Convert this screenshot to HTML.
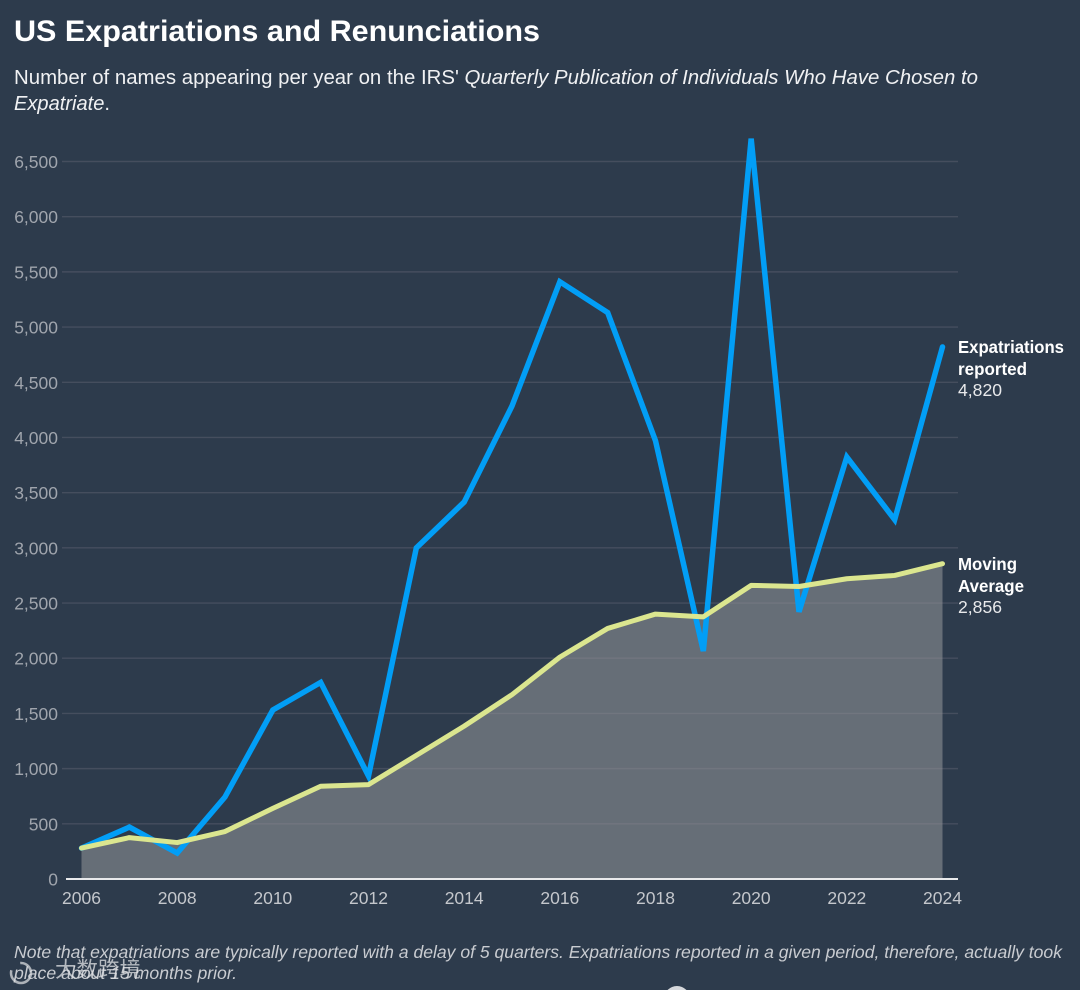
<!DOCTYPE html>
<html lang="en">
<head>
<meta charset="utf-8">
<title>US Expatriations and Renunciations</title>
<style>
html,body{margin:0;padding:0;background:#2d3b4c;}
body{width:1080px;height:990px;overflow:hidden;}
svg{display:block;font-family:"Liberation Sans","Noto Sans CJK SC",sans-serif;}
</style>
</head>
<body>
<svg id="chart" width="1080" height="990" viewBox="0 0 1080 990" xmlns="http://www.w3.org/2000/svg">
  <rect x="0" y="0" width="1080" height="990" fill="#2d3b4c"/>
  <text x="14" y="41" font-size="30" font-weight="700" fill="#ffffff" textLength="526" lengthAdjust="spacingAndGlyphs">US Expatriations and Renunciations</text>
  <text x="14" y="84" font-size="20" fill="#f0f1f3" textLength="964" lengthAdjust="spacingAndGlyphs">Number of names appearing per year on the IRS' <tspan font-style="italic">Quarterly Publication of Individuals Who Have Chosen to</tspan></text>
  <text x="14" y="110" font-size="20" fill="#f0f1f3" textLength="96" lengthAdjust="spacingAndGlyphs"><tspan font-style="italic">Expatriate</tspan>.</text>
  <g id="grid"></g>
  <g id="yLabels"></g>
  <path id="area" fill="#94969a" fill-opacity="0.56"></path>
  <line id="baseline" stroke="#e8e9eb" stroke-width="2"></line>
  <g id="xLabels"></g>
  <path id="lineExp" fill="none" stroke="#029ef6" stroke-width="5.5" stroke-linejoin="miter" stroke-miterlimit="5" stroke-linecap="round"></path>
  <path id="lineAvg" fill="none" stroke="#dbe68f" stroke-width="5" stroke-linejoin="round" stroke-linecap="round"></path>

  <g font-size="17.5">
    <text x="958" y="353" font-weight="700" fill="#ffffff" textLength="106" lengthAdjust="spacingAndGlyphs">Expatriations</text>
    <text x="958" y="375" font-weight="700" fill="#ffffff" textLength="69" lengthAdjust="spacingAndGlyphs">reported</text>
    <text id="expValue" x="958" y="396" fill="#e8e9eb" textLength="44" lengthAdjust="spacingAndGlyphs"></text>
  </g>
  <g font-size="17.5">
    <text x="958" y="570" font-weight="700" fill="#ffffff" textLength="59" lengthAdjust="spacingAndGlyphs">Moving</text>
    <text x="958" y="592" font-weight="700" fill="#ffffff" textLength="66" lengthAdjust="spacingAndGlyphs">Average</text>
    <text id="avgValue" x="958" y="613" fill="#e8e9eb" textLength="44" lengthAdjust="spacingAndGlyphs"></text>
  </g>

  <text x="14" y="958" font-size="17.5" font-style="italic" fill="#c9ccd1" textLength="1048" lengthAdjust="spacingAndGlyphs">Note that expatriations are typically reported with a delay of 5 quarters. Expatriations reported in a given period, therefore, actually took</text>
  <text x="14" y="979" font-size="17.5" font-style="italic" fill="#c9ccd1" textLength="223" lengthAdjust="spacingAndGlyphs">place about 15 months prior.</text>

  <g opacity="0.75">
    <circle cx="21" cy="973" r="10" fill="none" stroke="#d8dadd" stroke-width="2.5" stroke-dasharray="34 12"/>
    <text x="55" y="977" font-size="21.5" fill="#e2e3e6" font-family="'Noto Sans CJK SC','WenQuanYi Zen Hei',sans-serif">大数跨境</text>
  </g>
  <circle cx="677" cy="999" r="13" fill="#e8e9eb" opacity="0.9"/>
</svg>
<script>
const years = [2006,2007,2008,2009,2010,2011,2012,2013,2014,2015,2016,2017,2018,2019,2020,2021,2022,2023,2024];
const expatriations = [280,470,235,743,1531,1781,933,3000,3415,4285,5411,5132,3970,2065,6707,2420,3823,3255,4820];
const movingAverage = [280,375,330,430,640,840,855,1120,1385,1670,2010,2270,2400,2375,2660,2650,2720,2750,2856];
const yTicks = [0,500,1000,1500,2000,2500,3000,3500,4000,4500,5000,5500,6000,6500];
const xTickYears = [2006,2008,2010,2012,2014,2016,2018,2020,2022,2024];

const SVG_NS = 'http://www.w3.org/2000/svg';
const x0 = 81.5, x1 = 942.5, yBase = 879, yTop = 161.5;
function xScale(year) {
  return x0 + (year - years[0]) / (years[years.length - 1] - years[0]) * (x1 - x0);
}
function yScale(value) {
  return yBase - value / 6500 * (yBase - yTop);
}
function linePath(values) {
  return values.map(function (v, i) {
    return (i ? 'L' : 'M') + xScale(years[i]).toFixed(2) + ' ' + yScale(v).toFixed(2);
  }).join(' ');
}
function fmt(n) {
  return String(n).replace(/\B(?=(\d{3})+(?!\d))/g, ',');
}

const grid = document.getElementById('grid');
const yLabels = document.getElementById('yLabels');
yTicks.forEach(function (t) {
  if (t > 0) {
    const g = document.createElementNS(SVG_NS, 'line');
    
    
    g.setAttribute('x1', 62);
    g.setAttribute('x2', 958);
    g.setAttribute('y1', yScale(t));
    g.setAttribute('y2', yScale(t));
    g.setAttribute('stroke', '#454e5e');
    g.setAttribute('stroke-width', '1.4');
    grid.appendChild(g);
  }
  const l = document.createElementNS(SVG_NS, 'text');
  
  
  l.setAttribute('x', 58);
  l.setAttribute('y', yScale(t) + 6.5);
  l.setAttribute('text-anchor', 'end');
  l.setAttribute('font-size', '17.5');
  l.setAttribute('fill', '#a0a5ad');
  l.textContent = fmt(t);
  yLabels.appendChild(l);
});

const xLabels = document.getElementById('xLabels');
xTickYears.forEach(function (yr) {
  const l = document.createElementNS(SVG_NS, 'text');
  
  
  l.setAttribute('x', xScale(yr));
  l.setAttribute('y', 904);
  l.setAttribute('text-anchor', 'middle');
  l.setAttribute('font-size', '17.5');
  l.setAttribute('fill', '#c4c7cc');
  l.textContent = yr;
  xLabels.appendChild(l);
});

const baseline = document.getElementById('baseline');
baseline.setAttribute('x1', 66);
baseline.setAttribute('x2', 958);
baseline.setAttribute('y1', yBase);
baseline.setAttribute('y2', yBase);

document.getElementById('area').setAttribute('d',
  linePath(movingAverage) + ' L' + xScale(years[years.length - 1]) + ' ' + yBase + ' L' + xScale(years[0]) + ' ' + yBase + ' Z');
document.getElementById('lineExp').setAttribute('d', linePath(expatriations));
document.getElementById('lineAvg').setAttribute('d', linePath(movingAverage));
document.getElementById('expValue').textContent = fmt(expatriations[expatriations.length - 1]);
document.getElementById('avgValue').textContent = fmt(movingAverage[movingAverage.length - 1]);
</script>
</body>
</html>
